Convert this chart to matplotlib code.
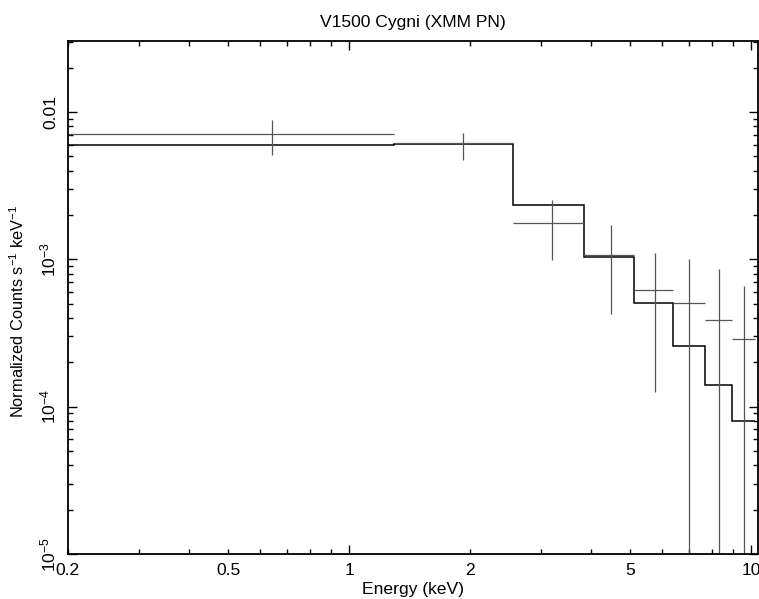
import numpy as np
import matplotlib
matplotlib.use("Agg")
import matplotlib.pyplot as plt
from matplotlib.ticker import FixedLocator, FixedFormatter, NullFormatter

plt.rcParams['font.family'] = ['Liberation Sans', 'DejaVu Sans']
plt.rcParams['mathtext.fontset'] = 'custom'
plt.rcParams['mathtext.rm'] = 'Liberation Sans'
plt.rcParams['mathtext.it'] = 'Liberation Sans:italic'

# Energy bins (keV) - edges are shared by data and model
bin_edges = [0.2, 1.294, 2.558, 3.843, 5.12, 6.40, 7.69, 8.95, 10.23]
data_energy = [0.643, 1.921, 3.20, 4.478, 5.77, 7.02, 8.33, 9.59]

# Data points with error bars (counts/s/keV)
data_rate = [0.0071, 0.00618, 0.00176, 0.00107, 0.000621, 0.000504, 0.000387, 0.000286]
data_low = [0.0051, 0.00474, 0.000995, 0.000425, 0.000126, 1e-7, 1e-7, 1e-7]
data_high = [0.00883, 0.00721, 0.00252, 0.00171, 0.00111, 0.001, 0.000855, 0.00066]

# Folded model, one value per bin
model_rate = [0.0060, 0.00605, 0.00232, 0.00104, 0.000505, 0.000259, 0.000141, 7.93e-5]

# Tick labels
x_major = [1, 10]
x_major_labels = ["1", "10"]
x_minor = [0.2, 0.3, 0.4, 0.5, 0.6, 0.7, 0.8, 0.9, 2, 3, 4, 5, 6, 7, 8, 9]
x_minor_labels = ["0.2", "", "", "0.5", "", "", "", "", "2", "", "", "5", "", "", "", ""]
y_major = [1e-5, 1e-4, 1e-3, 1e-2]
y_major_labels = [r"$10^{-5}$", r"$10^{-4}$", r"$10^{-3}$", "0.01"]

edges = np.array(bin_edges)
x = np.array(data_energy)
y = np.array(data_rate)
lo = np.array(data_low)
hi = np.array(data_high)

fs = 12.6

fig = plt.figure(figsize=(7.59, 5.99), dpi=100)
ax = fig.add_axes([68 / 759, 1 - 554 / 599, 690 / 759, 513 / 599])
ax.set_xscale('log')
ax.set_yscale('log')

# data crosses
ax.errorbar(x, y,
            xerr=[x - edges[:-1], edges[1:] - x],
            yerr=[y - lo, hi - y],
            fmt='none', ecolor='#555555', elinewidth=0.9, capsize=0)

# model step line
ax.stairs(model_rate, edges, color='black', linewidth=1.1, baseline=None)

ax.set_xlim(0.2, 10.4)
ax.set_ylim(1e-5, 0.0303)

# ticks: decade ticks long, the rest short, labels on 0.2, 0.5, 2, 5 too
ax.xaxis.set_major_locator(FixedLocator(x_major))
ax.xaxis.set_major_formatter(FixedFormatter(x_major_labels))
ax.xaxis.set_minor_locator(FixedLocator(x_minor))
ax.xaxis.set_minor_formatter(FixedFormatter(x_minor_labels))
ax.yaxis.set_major_locator(FixedLocator(y_major))
ax.yaxis.set_major_formatter(FixedFormatter(y_major_labels))
ax.yaxis.set_minor_locator(FixedLocator(
    [m * 10.0 ** d for d in range(-5, -1) for m in range(2, 10)]))
ax.yaxis.set_minor_formatter(NullFormatter())

ax.tick_params(which='both', direction='in', top=True, right=True,
               labelsize=fs, width=1.0)
ax.tick_params(which='major', length=6.5)
ax.tick_params(which='minor', length=3.5)
ax.tick_params(axis='x', which='both', pad=6.5)
ax.tick_params(axis='y', which='both', pad=7)
for lab in ax.get_yticklabels():
    lab.set_rotation(90)
    lab.set_va('center')

for sp in ax.spines.values():
    sp.set_linewidth(1.3)

ax.set_xlabel("Energy (keV)", fontsize=fs, labelpad=3)
# ylabel sits a bit below the axes centre in the original
ax.set_ylabel(r"Normalized Counts s$^{-1}$ keV$^{-1}$", fontsize=11.8,
              labelpad=8, y=0.472)
ax.set_title("V1500 Cygni (XMM PN)", fontsize=fs, pad=10)

fig.savefig("out.png", dpi=100)
